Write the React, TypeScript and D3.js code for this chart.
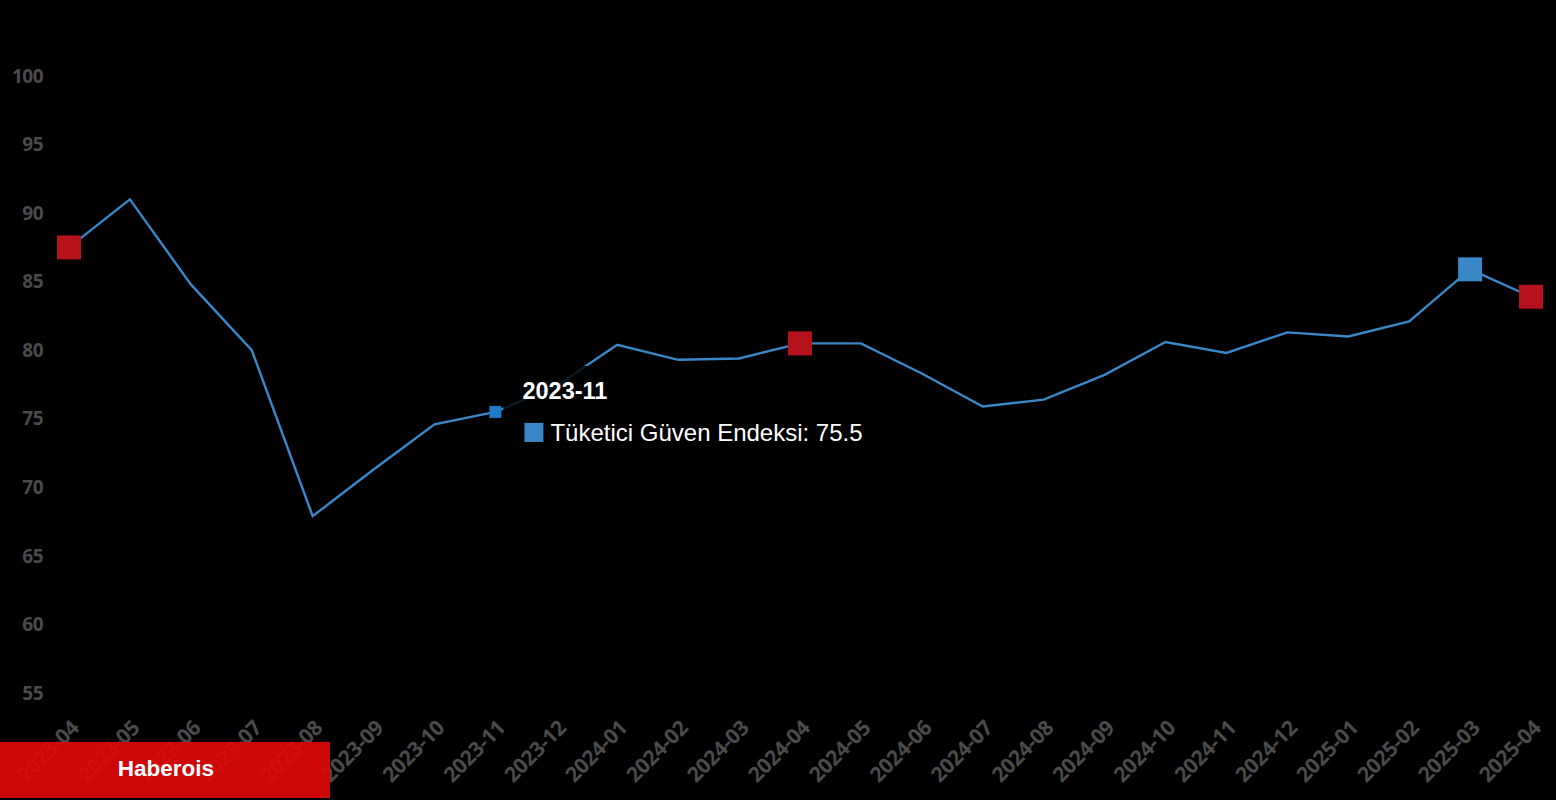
import { useEffect, useRef } from "react";
import * as d3 from "d3";

const months = [
  "2023-04", "2023-05", "2023-06", "2023-07", "2023-08", "2023-09", "2023-10",
  "2023-11", "2023-12", "2024-01", "2024-02", "2024-03", "2024-04", "2024-05",
  "2024-06", "2024-07", "2024-08", "2024-09", "2024-10", "2024-11", "2024-12",
  "2025-01", "2025-02", "2025-03", "2025-04",
];
const confidence = [
  87.5, 91.0, 84.8, 80.0, 67.9, 71.3, 74.6, 75.5, 77.4, 80.4, 79.3, 79.4, 80.5,
  80.5, 78.3, 75.9, 76.4, 78.2, 80.6, 79.8, 81.3, 81.0, 82.1, 85.9, 83.9,
];
const yTicks = [55, 60, 65, 70, 75, 80, 85, 90, 95, 100];
const redMarks = ["2023-04", "2024-04", "2025-04"];
const blueMarks = ["2025-03"];
const hovered = "2023-11";
const seriesName = "Tüketici Güven Endeksi";

const W = 1556;
const H = 800;

export default function App() {
  const svgRef = useRef<SVGSVGElement>(null);

  useEffect(() => {
    if (!svgRef.current) return;
    const svg = d3.select(svgRef.current);
    svg.selectAll("*").remove();

    const data = months.map((m, i) => ({ m, v: confidence[i] }));

    const x = d3.scalePoint<string>().domain(months).range([69, 1531]);
    const y = d3.scaleLinear().domain([55, 100]).range([693, 76]);

    svg.append("rect").attr("width", W).attr("height", H).attr("fill", "#000");

    // y labels
    svg.append("g")
      .selectAll("text")
      .data(yTicks)
      .join("text")
      .attr("x", 43)
      .attr("y", d => y(d))
      .attr("dy", "0.35em")
      .attr("text-anchor", "end")
      .attr("fill", "#4a4a4a")
      .attr("font-family", "'Open Sans', sans-serif")
      .attr("font-weight", 700)
      .attr("font-size", "19px")
      .attr("letter-spacing", "-0.5px")
      .text(d => d);

    // x labels
    svg.append("g")
      .selectAll("text")
      .data(months)
      .join("text")
      .attr("transform", d => `translate(${x(d)! + 6},${724}) rotate(-45)`)
      .attr("text-anchor", "end")
      .attr("dy", "0.35em")
      .attr("fill", "#4a4a4a")
      .attr("font-family", "'Open Sans', sans-serif")
      .attr("font-weight", 700)
      .attr("font-size", "21px")
      .attr("letter-spacing", "-0.3px")
      .text(d => d);

    // brand box
    svg.append("rect")
      .attr("x", 0).attr("y", 742).attr("width", 330).attr("height", 56)
      .attr("fill", "#de0808").attr("opacity", 0.92);
    svg.append("text")
      .attr("x", 166).attr("y", 768)
      .attr("dy", "0.35em")
      .attr("text-anchor", "middle")
      .attr("fill", "#fff")
      .attr("font-family", "'Liberation Sans', Arial, sans-serif")
      .attr("font-weight", 700)
      .attr("font-size", "22.5px")
      .text("Haberois");

    // line
    const line = d3.line<{ m: string; v: number }>()
      .x(d => x(d.m)!)
      .y(d => y(d.v));
    svg.append("path")
      .datum(data)
      .attr("d", line)
      .attr("fill", "none")
      .attr("stroke", "#3a87c8")
      .attr("stroke-width", 2.4);

    const markSize = 24;
    svg.append("g")
      .selectAll("rect")
      .data(data.filter(d => redMarks.includes(d.m)))
      .join("rect")
      .attr("x", d => x(d.m)! - markSize / 2)
      .attr("y", d => y(d.v) - markSize / 2)
      .attr("width", markSize)
      .attr("height", markSize)
      .attr("fill", "#b5121b");
    svg.append("g")
      .selectAll("rect")
      .data(data.filter(d => blueMarks.includes(d.m)))
      .join("rect")
      .attr("x", d => x(d.m)! - markSize / 2)
      .attr("y", d => y(d.v) - markSize / 2)
      .attr("width", markSize)
      .attr("height", markSize)
      .attr("fill", "#3a87c8");

    // hovered point + tooltip
    const hp = data.find(d => d.m === hovered)!;
    const hx = x(hp.m)!;
    const hy = y(hp.v);
    svg.append("rect")
      .attr("x", hx - 6).attr("y", hy - 6).attr("width", 12).attr("height", 12)
      .attr("fill", "#1f78c8");

    const tip = svg.append("g").attr("transform", `translate(${hx + 8},${hy - 46})`);
    tip.append("rect")
      .attr("width", 380).attr("height", 90)
      .attr("fill", "#000").attr("opacity", 0.82);
    tip.append("text")
      .attr("x", 19).attr("y", 33)
      .attr("fill", "#fff")
      .attr("font-family", "'Liberation Sans', Arial, sans-serif")
      .attr("font-weight", 700)
      .attr("font-size", "23.5px")
      .text(hp.m);
    tip.append("rect")
      .attr("x", 21).attr("y", 57).attr("width", 19).attr("height", 19)
      .attr("fill", "#3a87c8");
    tip.append("text")
      .attr("x", 47).attr("y", 75)
      .attr("fill", "#fff")
      .attr("font-family", "'Liberation Sans', Arial, sans-serif")
      .attr("font-size", "24px")
      .text(`${seriesName}: ${hp.v}`);
  }, []);

  return (
    <div style={{ position: "fixed", left: 0, top: 0, width: W, height: H, background: "#000" }}>
      <svg ref={svgRef} width={W} height={H} style={{ display: "block" }} />
    </div>
  );
}
